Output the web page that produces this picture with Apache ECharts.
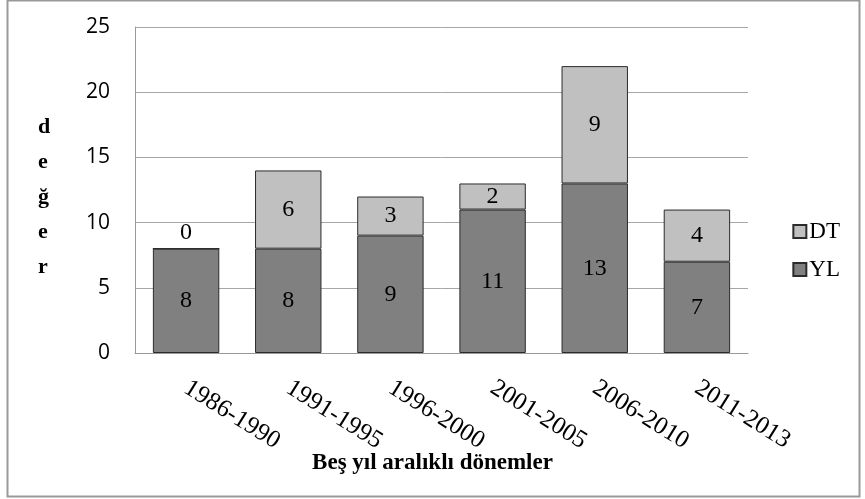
<!DOCTYPE html>
<html><head><meta charset="utf-8">
<script src="https://cdn.jsdelivr.net/npm/echarts@6/dist/echarts.min.js"></script>
<style>html,body{margin:0;padding:0;background:#fff}#c{width:865px;height:499px}</style>
</head><body><div id="c"></div>
<script>
const categories = ['1986-1990','1991-1995','1996-2000','2001-2005','2006-2010','2011-2013'];
const yl = [8, 8, 9, 11, 13, 7];
const dt = [0, 6, 3, 2, 9, 4];
const yTitle = 'd\ne\nğ\ne\nr';
const xTitle = 'Beş yıl aralıklı dönemler';

const chart = echarts.init(document.getElementById('c'));
const serif = '"Liberation Serif", "DejaVu Serif", serif';
chart.setOption({
  animation: false,
  backgroundColor: '#fff',
  grid: { left: 135, right: 117, top: 27, bottom: 146 },
  legend: {
    orient: 'vertical', right: 20, top: 215, itemGap: 15,
    itemWidth: 13, itemHeight: 13, icon: 'rect',
    textStyle: { fontFamily: serif, fontSize: 23, color: '#000', padding: [0,0,0,-2] },
    data: ['DT', 'YL']
  },
  xAxis: {
    type: 'category', data: categories,
    axisLine: { lineStyle: { color: '#999' } },
    axisTick: { show: false },
    axisLabel: { rotate: -32, margin: 33, fontFamily: serif, fontSize: 25, color: '#000' }
  },
  yAxis: {
    type: 'value', min: 0, max: 25, interval: 5,
    axisLine: { show: true, lineStyle: { color: '#999' } },
    axisTick: { show: false },
    splitLine: { lineStyle: { color: '#a6a6a6' } },
    axisLabel: { margin: 25, fontFamily: '"Open Sans", sans-serif', fontSize: 21, color: '#000' }
  },
  graphic: [
    { type: 'rect', shape: { x: 7.5, y: 0.5, width: 852, height: 496 }, style: { fill: 'none', stroke: '#999', lineWidth: 2 } },
    { type: 'text', left: 38, top: 110, style: { text: yTitle, fontFamily: serif, fontWeight: 'bold', fontSize: 22, lineHeight: 35, fill: '#000', align: 'center' } },
    { type: 'text', left: 'center', top: 452, style: { text: xTitle, fontFamily: serif, fontWeight: 'bold', fontSize: 23, fill: '#000' }, x: -3 }
  ],
  series: [
    {
      name: 'YL', type: 'bar', stack: 's', barWidth: '65%',
      data: yl,
      itemStyle: { color: '#808080', borderColor: '#2b2b2b', borderWidth: 1 },
      label: { show: true, position: 'inside', fontFamily: serif, fontSize: 24, color: '#000' }
    },
    {
      name: 'DT', type: 'bar', stack: 's', barWidth: '65%',
      data: dt.map(v => v === 0 ? { value: v, label: { position: 'top', distance: 3 } } : v),
      itemStyle: { color: '#c0c0c0', borderColor: '#2b2b2b', borderWidth: 1 },
      label: { show: true, position: 'inside', fontFamily: serif, fontSize: 24, color: '#000' }
    }
  ]
});
</script></body></html>
